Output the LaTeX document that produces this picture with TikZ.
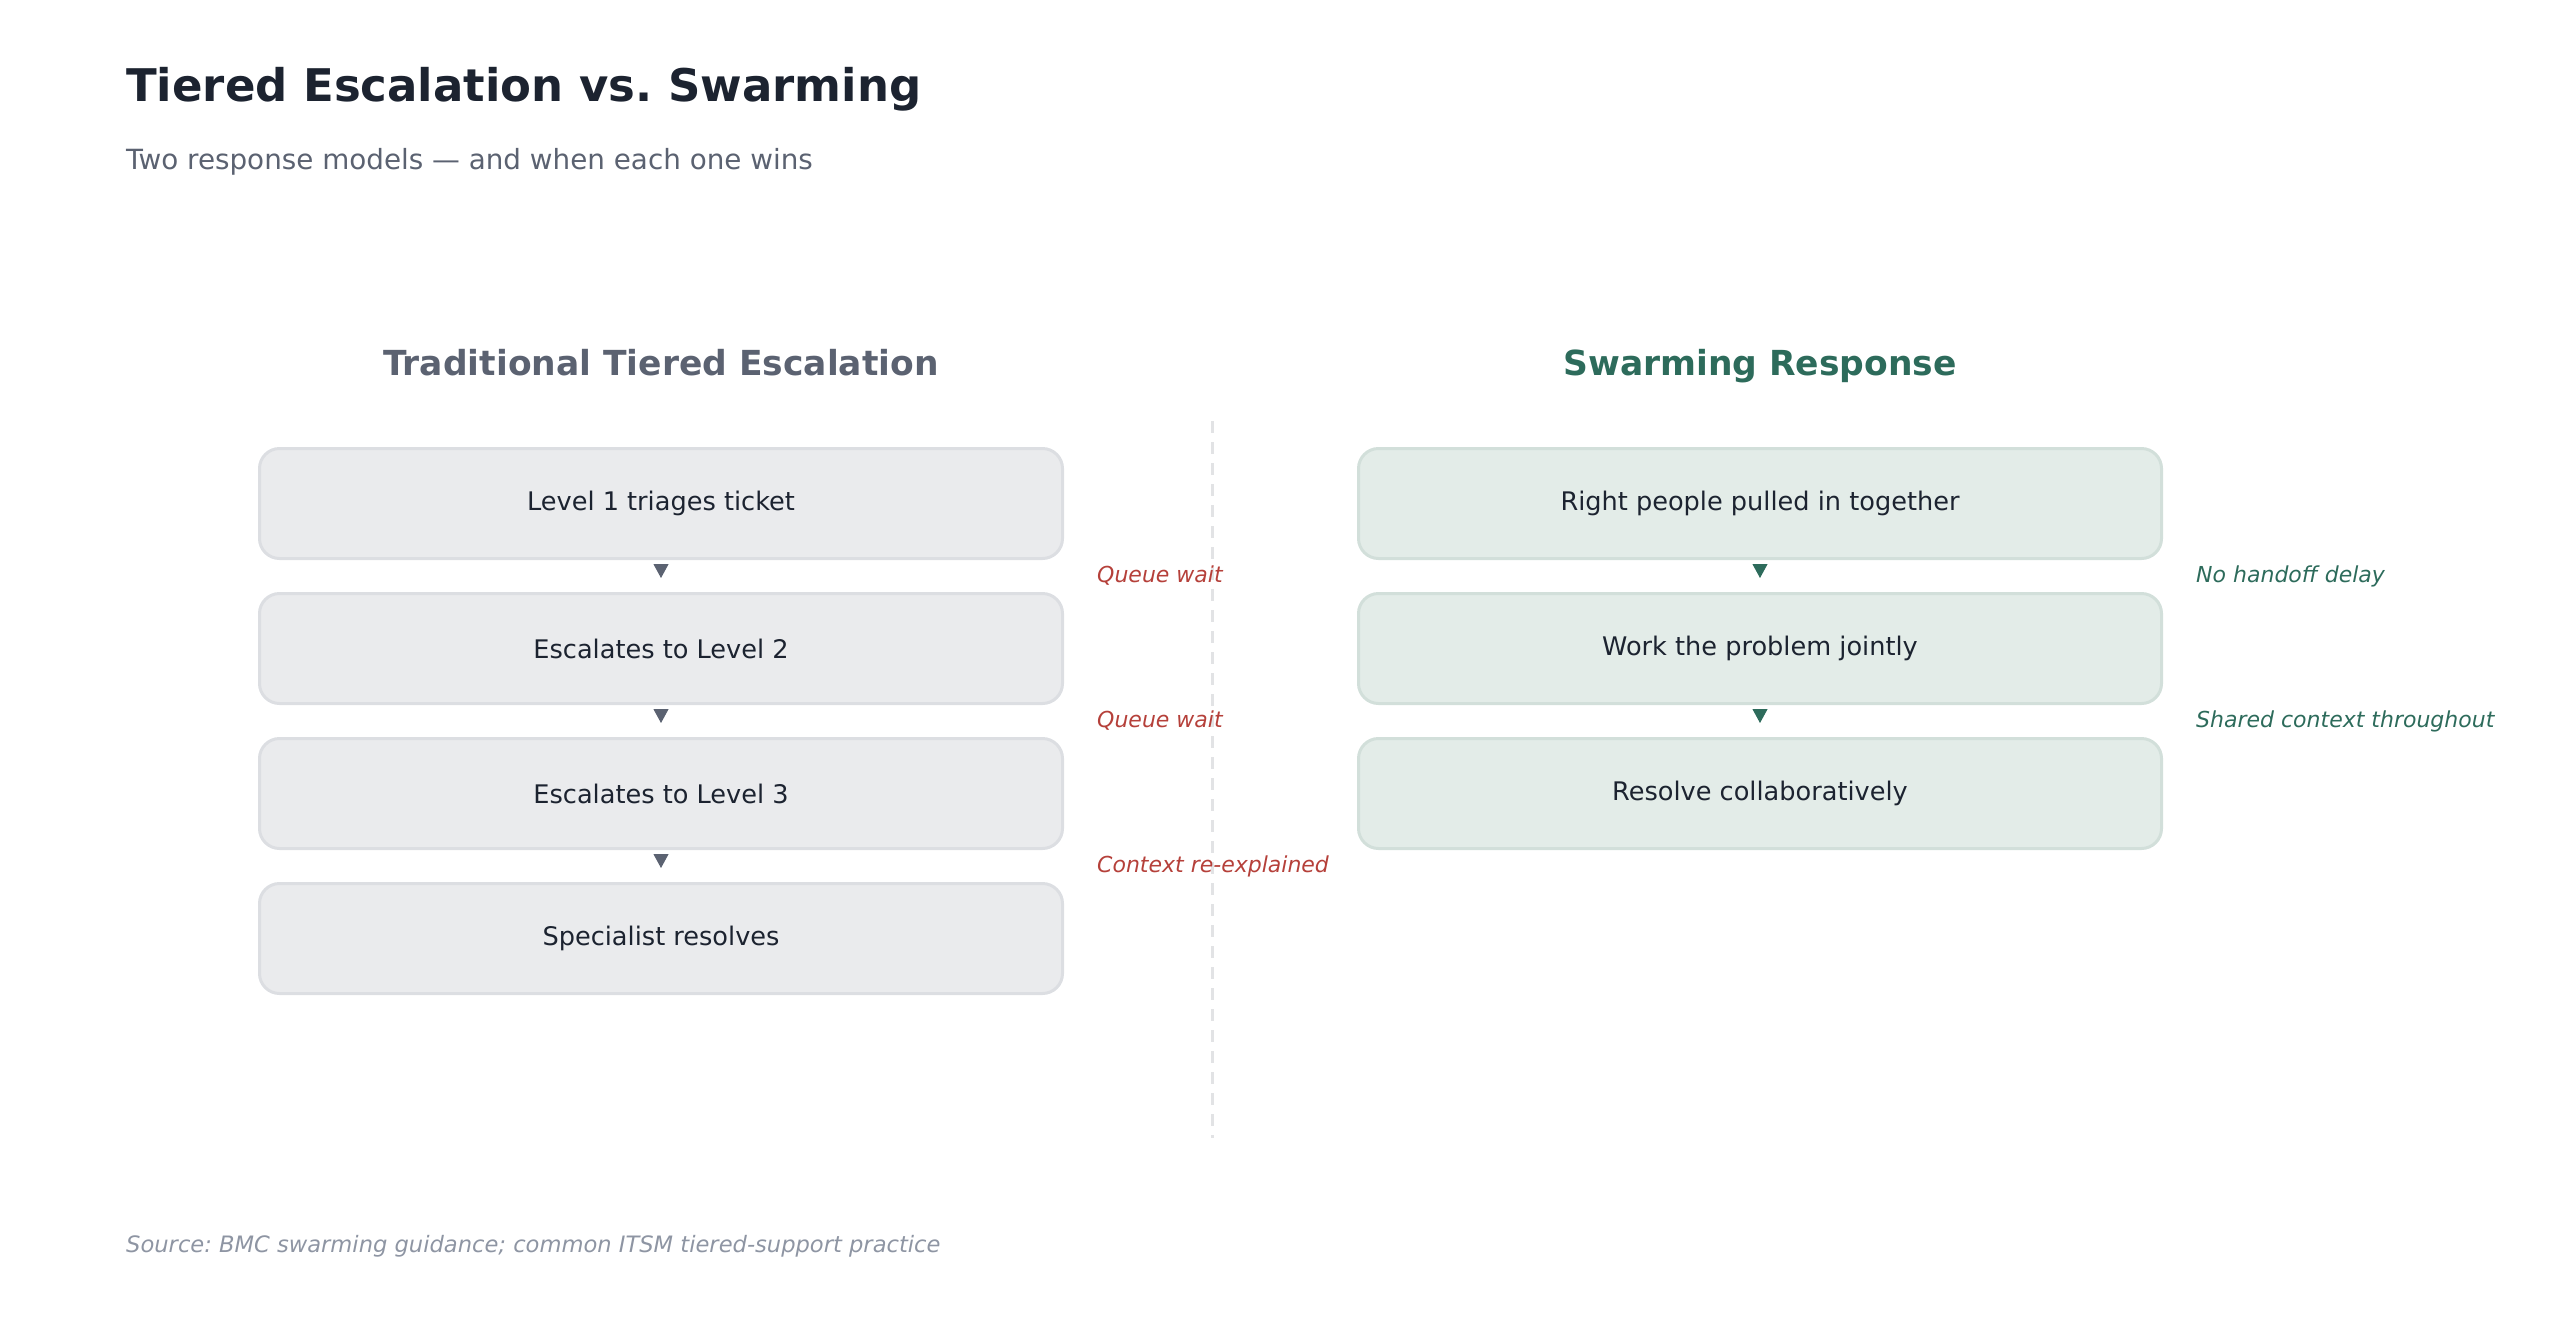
\documentclass[tikz,border=0pt]{standalone}
\usepackage{fontspec}
\setmainfont{DejaVu Sans}
\usetikzlibrary{arrows.meta,positioning,calc}

\definecolor{inkdark}{HTML}{1C2330}
\definecolor{inkgray}{HTML}{5B6271}
\definecolor{inkfaint}{HTML}{8E95A3}
\definecolor{tierfill}{HTML}{EAEBED}
\definecolor{tierline}{HTML}{DCDEE2}
\definecolor{swarmfill}{HTML}{E3ECE8}
\definecolor{swarmline}{HTML}{D2DFDA}
\definecolor{swarmgreen}{HTML}{2D6B5B}
\definecolor{waitred}{HTML}{B5403A}
\definecolor{rulegray}{HTML}{E2E3E5}

\begin{document}
\frenchspacing
\begin{tikzpicture}[x=1pt,y=-1pt,>=Latex,
  stepbox/.style={rounded corners=20pt,line width=3pt,minimum width=803pt,minimum height=110pt,
    inner sep=0pt,font=\fontsize{25.6}{30}\selectfont,text=inkdark},
  tierbox/.style={stepbox,fill=tierfill,draw=tierline},
  swarmbox/.style={stepbox,fill=swarmfill,draw=swarmline},
  head/.style={font=\fontsize{34.5}{40}\selectfont\bfseries,anchor=base},
  note/.style={font=\fontsize{22}{26}\selectfont\itshape,anchor=west,inner sep=0pt},
  flow/.style={line width=1pt,-{Triangle[width=15pt,length=14pt]},shorten <=4pt,shorten >=14pt}]
\useasboundingbox (0,0) rectangle (2560,1323);
% titles
\node[anchor=base west,inner sep=0pt,text=inkdark,font=\fontsize{45}{54}\selectfont\bfseries] (title) at (126,101) {Tiered Escalation vs. Swarming};
\node[anchor=base west,inner sep=0pt,text=inkgray,font=\fontsize{27.8}{33}\selectfont] (subtitle) at (126,169) {Two response models — and when each one wins};
\node[head,text=inkgray] (tierhead) at (661,375) {Traditional Tiered Escalation};
\node[head,text=swarmgreen] (swarmhead) at (1760,375) {Swarming Response};
% divider
\draw[rulegray,line width=3pt,dash pattern=on 12pt off 9pt] (1212,421) -- (1212,1138);
% tiered column
\node[tierbox] (t1) at (661,503.5) {Level 1 triages ticket};
\node[tierbox,below=32pt of t1] (t2) {Escalates to Level 2};
\node[tierbox,below=32pt of t2] (t3) {Escalates to Level 3};
\node[tierbox,below=32pt of t3] (t4) {Specialist resolves};
\draw[flow,inkgray] (t1.south) -- (t2.north);
\draw[flow,inkgray] (t2.south) -- (t3.north);
\draw[flow,inkgray] (t3.south) -- (t4.north);
\node[note,text=waitred] (w1) at ($(t1.south)!.5!(t2.north)+(436,0)$) {Queue wait};
\node[note,text=waitred] (w2) at ($(t2.south)!.5!(t3.north)+(436,0)$) {Queue wait};
\node[note,text=waitred] (w3) at ($(t3.south)!.5!(t4.north)+(436,0)$) {Context re-explained};
% swarming column
\node[swarmbox] (s1) at (1760,503.5) {Right people pulled in together};
\node[swarmbox,below=32pt of s1] (s2) {Work the problem jointly};
\node[swarmbox,below=32pt of s2] (s3) {Resolve collaboratively};
\draw[flow,swarmgreen] (s1.south) -- (s2.north);
\draw[flow,swarmgreen] (s2.south) -- (s3.north);
\node[note,text=swarmgreen] (g1) at ($(s1.south)!.5!(s2.north)+(436,0)$) {No handoff delay};
\node[note,text=swarmgreen] (g2) at ($(s2.south)!.5!(s3.north)+(436,0)$) {Shared context throughout};
% source
\node[anchor=base west,inner sep=0pt,text=inkfaint,font=\fontsize{22.6}{27}\selectfont\itshape] (source) at (126,1252) {Source: BMC swarming guidance; common ITSM tiered-support practice};
\end{tikzpicture}
\end{document}
